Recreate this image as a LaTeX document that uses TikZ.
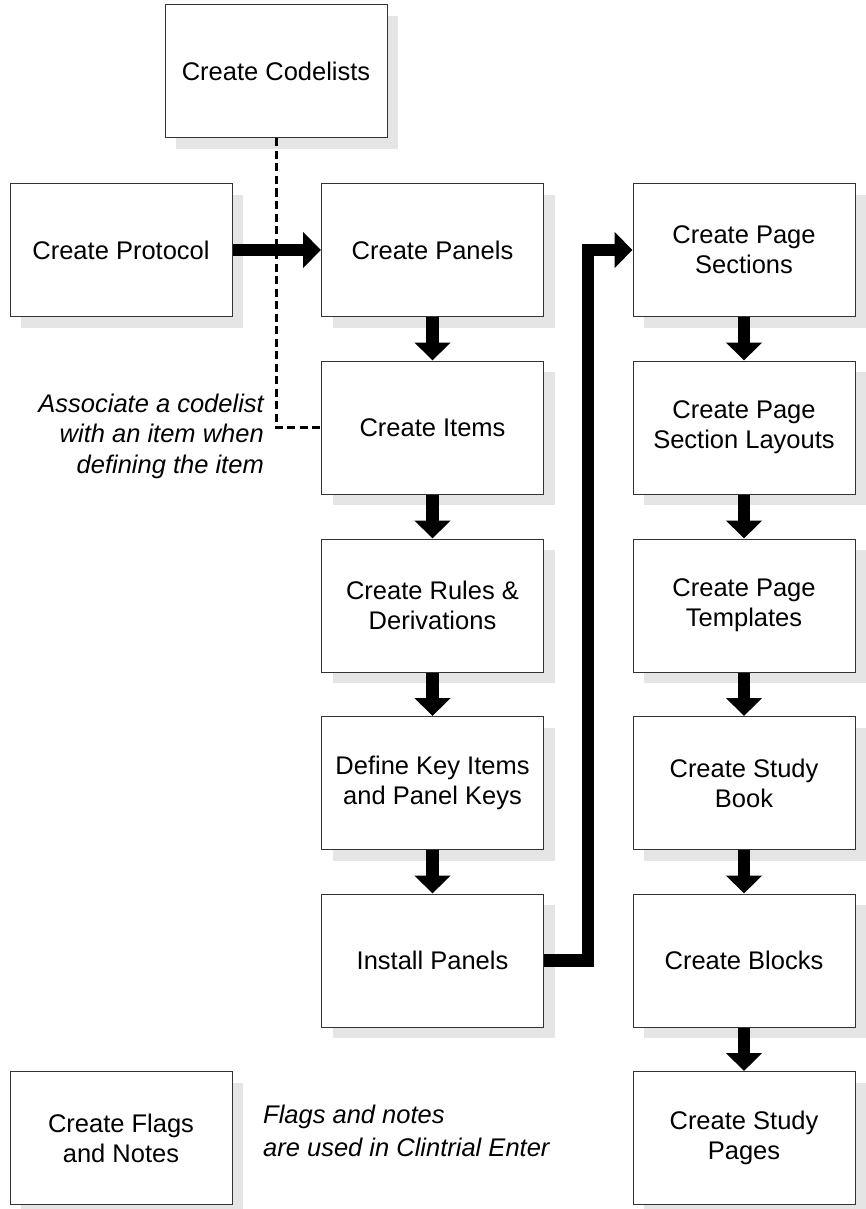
\documentclass[tikz,border=0pt]{standalone}
\usepackage{fontspec}
\setmainfont{Liberation Sans}
\usetikzlibrary{arrows.meta,shadows}
\begin{document}
\begin{tikzpicture}[x=1pt,y=-1pt,
  stepbox/.style={draw=black!80, line width=1pt, fill=white,
    minimum width=222pt, minimum height=133pt, inner sep=0pt,
    align=center, font=\fontsize{25.5}{30}\selectfont,
    drop shadow={shadow xshift=11pt, shadow yshift=-11pt,
      opacity=1, fill=black!10, draw=none}},
  flow/.style={line width=12.5pt, -{Triangle[width=35pt,length=18pt]}},
  link/.style={line width=3pt, dash pattern=on 8pt off 4.5pt},
  note/.style={inner sep=0pt, font=\itshape\fontsize{25.5}{30.5}\selectfont}]
\useasboundingbox (0,0) rectangle (865,1209);

% left column
\node[stepbox] (codelists) at (276,71.5) {Create Codelists};
\node[stepbox] (protocol) at (121,250) {Create Protocol};
\node[stepbox] (flags) at (121,1138) {Create Flags\\and Notes};

% middle column
\node[stepbox] (panels) at (432.5,250) {Create Panels};
\node[stepbox] (items) at (432.5,427.5) {Create Items};
\node[stepbox] (rules) at (432.5,605.5) {Create Rules \&\\Derivations};
\node[stepbox] (keys) at (432.5,783) {Define Key Items\\and Panel Keys};
\node[stepbox] (install) at (432.5,960.5) {Install Panels};

% right column
\node[stepbox] (sections) at (744,250) {Create Page\\Sections};
\node[stepbox] (layouts) at (744,427.5) {Create Page\\Section Layouts};
\node[stepbox] (templates) at (744,605.5) {Create Page\\Templates};
\node[stepbox] (book) at (744,783) {Create Study\\Book};
\node[stepbox] (blocks) at (744,960.5) {Create Blocks};
\node[stepbox] (pages) at (744,1138) {Create Study\\Pages};

% annotations
\node[note, anchor=east, align=right] (assoc) at (264,436)
  {Associate a codelist\\with an item when\\defining the item};
\node[note, anchor=west, align=left,
  font=\itshape\fontsize{25.5}{33.5}\selectfont] (flagnote) at (263,1131)
  {Flags and notes\\are used in Clintrial Enter};

% main flow
\draw[flow] (protocol) -- (panels);
\draw[flow] (panels) -- (items);
\draw[flow] (items) -- (rules);
\draw[flow] (rules) -- (keys);
\draw[flow] (keys) -- (install);
\draw[flow, line join=miter] (install.east) -- ++(44,0) |- (sections.west);
\draw[flow] (sections) -- (layouts);
\draw[flow] (layouts) -- (templates);
\draw[flow] (templates) -- (book);
\draw[flow] (book) -- (blocks);
\draw[flow] (blocks) -- (pages);

% codelist association
\draw[link] (codelists.south) |- (items.west);
\end{tikzpicture}
\end{document}
